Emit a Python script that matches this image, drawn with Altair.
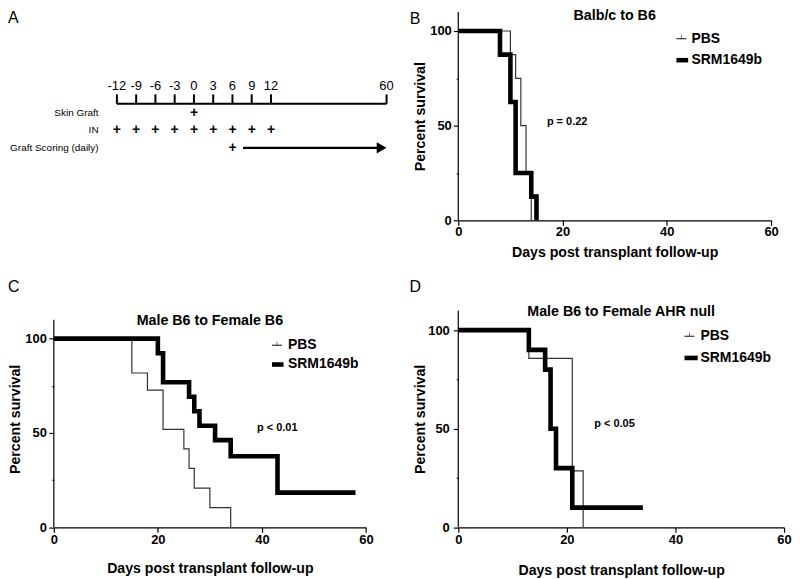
import altair as alt
import pandas as pd

FONT = "Liberation Sans"

# ---------------- Panel A: experimental timeline ----------------
timeline_labels = ["-12", "-9", "-6", "-3", "0", "3", "6", "9", "12", "60"]
timeline_slots = [0, 1, 2, 3, 4, 5, 6, 7, 8, 14]
row_names = ["Skin Graft", "IN", "Graft Scoring (daily)"]
row_index = [1, 2, 3]
skin_graft_days = ["0"]
in_days = ["-12", "-9", "-6", "-3", "0", "3", "6", "9", "12"]
scoring_days = ["6"]

# ---------------- Survival data (Kaplan-Meier steps) ----------------
groups = ["PBS", "SRM1649b"]

b_pbs_days = [0, 10, 11, 12, 13, 14]
b_pbs_surv = [100, 87.5, 75, 50, 25, 0]
b_srm_days = [0, 8, 10, 11, 14, 15]
b_srm_surv = [100, 87.5, 62.5, 25, 12.5, 0]

c_pbs_days = [0, 15, 18, 21, 25, 26, 27, 30, 34]
c_pbs_surv = [100, 81.8, 72.7, 51.9, 41.6, 31.2, 20.8, 10.4, 0]
c_srm_days = [0, 20, 21, 26, 27, 28, 31, 34, 43, 58]
c_srm_surv = [100, 92.3, 76.9, 69.2, 61.5, 53.8, 46.2, 37.7, 18.4, 18.4]

d_pbs_days = [0, 13, 21, 23]
d_pbs_surv = [100, 85.7, 28.6, 0]
d_srm_days = [0, 13, 16, 17, 18, 21, 34]
d_srm_surv = [100, 90, 80, 50, 30, 10, 10]

titles = ["Balb/c to B6", "Male B6 to Female B6", "Male B6 to Female AHR null"]
pvalues = ["p = 0.22", "p < 0.01", "p < 0.05"]

x_ticks = [0, 20, 40, 60]
y_ticks = [0, 25, 50, 75, 100]
y_axis_top = 110


def panel_a():
    ticks = pd.DataFrame({"slot": timeline_slots, "label": timeline_labels})
    slot_of = dict(zip(timeline_labels, timeline_slots))
    xs = alt.Scale(domain=[-3.274, 12.929], nice=False, zero=False)
    ys = alt.Scale(domain=[-4.789, 7.691], nice=False, zero=False, reverse=True)
    axis_row, tick_top_row, label_row = 0.469, -0.069, -0.574

    line = pd.DataFrame({"s0": [min(timeline_slots)], "s1": [max(timeline_slots)], "r": [axis_row]})
    axis_line = alt.Chart(line).mark_rule(color="black", strokeWidth=2).encode(
        x=alt.X("s0:Q", scale=xs, axis=None), x2="s1:Q", y=alt.Y("r:Q", scale=ys, axis=None))
    tk = ticks.assign(r0=axis_row, r1=tick_top_row)
    tick_marks = alt.Chart(tk).mark_rule(color="black", strokeWidth=2).encode(
        x=alt.X("slot:Q", scale=xs, axis=None), y=alt.Y("r0:Q", scale=ys, axis=None), y2="r1:Q")
    tick_text = alt.Chart(ticks.assign(r=label_row)).mark_text(
        font=FONT, fontSize=13, color="black", align="center", baseline="middle").encode(
        x=alt.X("slot:Q", scale=xs, axis=None), y=alt.Y("r:Q", scale=ys, axis=None), text="label:N")

    rows = pd.DataFrame({"name": row_names, "r": row_index, "s": [-0.95] * 3})
    row_text = alt.Chart(rows).mark_text(
        font=FONT, fontSize=10, color="black", align="right", baseline="middle").encode(
        x=alt.X("s:Q", scale=xs, axis=None), y=alt.Y("r:Q", scale=ys, axis=None), text="name:N")

    plus_rows = []
    for d in skin_graft_days:
        plus_rows.append({"slot": slot_of[d], "r": row_index[0]})
    for d in in_days:
        plus_rows.append({"slot": slot_of[d], "r": row_index[1]})
    for d in scoring_days:
        plus_rows.append({"slot": slot_of[d], "r": row_index[2]})
    plus = alt.Chart(pd.DataFrame(plus_rows).assign(t="+")).mark_text(
        font=FONT, fontSize=14, fontWeight="bold", color="black", align="center", baseline="middle").encode(
        x=alt.X("slot:Q", scale=xs, axis=None), y=alt.Y("r:Q", scale=ys, axis=None), text="t:N")

    arrow_df = pd.DataFrame({"s0": [slot_of[scoring_days[0]] + 0.55], "s1": [max(timeline_slots) - 0.4],
                             "tip": [max(timeline_slots)], "r": [row_index[2]]})
    arrow_line = alt.Chart(arrow_df).mark_rule(color="black", strokeWidth=2.4).encode(
        x=alt.X("s0:Q", scale=xs, axis=None), x2="s1:Q", y=alt.Y("r:Q", scale=ys, axis=None))
    arrow_head = alt.Chart(arrow_df).mark_point(
        shape="triangle-right", filled=True, color="black", size=130, opacity=1, xOffset=-5).encode(
        x=alt.X("tip:Q", scale=xs, axis=None), y=alt.Y("r:Q", scale=ys, axis=None))

    letter = alt.Chart(pd.DataFrame({"t": ["A"]})).mark_text(
        font=FONT, fontSize=16, color="black", align="left", baseline="top").encode(
        x=alt.value(-46), y=alt.value(-2.4), text="t:N")

    return alt.layer(axis_line, tick_marks, tick_text, row_text, plus, arrow_line, arrow_head, letter).properties(
        width=313.3, height=218.4)


def km_panel(pbs_d, pbs_s, srm_d, srm_s, title, pval, p_pos, leg, letter, w, h, ymax, g):
    df = pd.concat([
        pd.DataFrame({"day": pbs_d, "surv": pbs_s, "group": groups[0]}),
        pd.DataFrame({"day": srm_d, "surv": srm_s, "group": groups[1]}),
    ])
    xs = alt.Scale(domain=[0, 60], nice=False)
    ys = alt.Scale(domain=[0, ymax], nice=False)
    xaxis = alt.Axis(values=x_ticks, format="d", grid=False, labelFlush=False,
                     title="Days post transplant follow-up", titleFont=FONT, titleFontSize=14.2,
                     titleFontWeight="bold", titleColor="black", titlePadding=g["xtp"],
                     labelFont=FONT, labelFontSize=13, labelFontWeight="bold", labelColor="black",
                     labelPadding=g["xlp"], tickSize=5, tickColor="black", tickWidth=1.2,
                     domainColor="black", domainWidth=1.2)
    yaxis = alt.Axis(values=y_ticks, labelExpr="datum.value % 50 === 0 ? datum.label : ''", grid=False,
                     title="Percent survival", titleFont=FONT, titleFontSize=14.2,
                     titleFontWeight="bold", titleColor="black", titlePadding=g["ytp"],
                     labelFont=FONT, labelFontSize=13, labelFontWeight="bold", labelColor="black",
                     labelPadding=g["ylp"], domain=False,
                     tickSize={"condition": {"test": "datum.value % 50 !== 0", "value": 2}, "value": 5},
                     tickColor="black", tickWidth=1.2)
    sw = alt.StrokeWidth("group:N", scale=alt.Scale(domain=groups, range=[1.2, 4.6]), legend=None)
    col = alt.Color("group:N", scale=alt.Scale(domain=groups, range=["#333333", "#000000"]), legend=None)

    # y-axis line, drawn from 0 up to the axis top
    adf = pd.DataFrame({"day": [0], "surv": [0], "surv2": [y_axis_top]})
    yline = alt.Chart(adf).mark_rule(color="black", strokeWidth=1.2).encode(
        x=alt.X("day:Q", scale=xs, axis=xaxis), y=alt.Y("surv:Q", scale=ys, axis=yaxis), y2="surv2:Q")

    lines = alt.Chart(df).mark_line(interpolate="step-after").encode(
        x=alt.X("day:Q", scale=xs, axis=xaxis), y=alt.Y("surv:Q", scale=ys, axis=yaxis),
        strokeWidth=sw, color=col, detail="group:N")

    ldf = pd.DataFrame({"group": groups, "day": [leg["x1"]] * 2, "day2": leg["x2"],
                        "tx": [leg["tx"]] * 2, "surv": leg["y"]})
    ldf["mid"] = (ldf["day"] + ldf["day2"]) / 2
    leg_lines = alt.Chart(ldf).mark_rule().encode(
        x=alt.X("day:Q", scale=xs, axis=xaxis), x2="day2:Q", y=alt.Y("surv:Q", scale=ys, axis=yaxis),
        strokeWidth=sw, color=col)
    leg_tick = alt.Chart(ldf[ldf["group"] == groups[0]]).mark_tick(
        orient="vertical", size=4, thickness=1, color="#333333", yOffset=-1.5).encode(
        x=alt.X("mid:Q", scale=xs, axis=xaxis), y=alt.Y("surv:Q", scale=ys, axis=yaxis))
    leg_text = alt.Chart(ldf).mark_text(
        font=FONT, fontSize=14, fontWeight="bold", color="black", align="left", baseline="middle").encode(
        x=alt.X("tx:Q", scale=xs, axis=xaxis), y=alt.Y("surv:Q", scale=ys, axis=yaxis), text="group:N")

    pdf = pd.DataFrame({"day": [p_pos[0]], "surv": [p_pos[1]], "t": [pval]})
    p_text = alt.Chart(pdf).mark_text(
        font=FONT, fontSize=11, fontWeight="bold", color="black", align="left", baseline="middle").encode(
        x=alt.X("day:Q", scale=xs, axis=xaxis), y=alt.Y("surv:Q", scale=ys, axis=yaxis), text="t:N")

    t_text = alt.Chart(pd.DataFrame({"t": [title]})).mark_text(
        font=FONT, fontSize=14.3, fontWeight="bold", color="black", align="center", baseline="top").encode(
        x=alt.value(w / 2), y=alt.value(g["ty"]), text="t:N")
    l_text = alt.Chart(pd.DataFrame({"t": [letter]})).mark_text(
        font=FONT, fontSize=16, color="black", align="left", baseline="top").encode(
        x=alt.value(g["lx"]), y=alt.value(g["ly"]), text="t:N")

    return alt.layer(yline, lines, leg_lines, leg_tick, leg_text, p_text, t_text, l_text).properties(
        width=w, height=h)


panel_b = km_panel(b_pbs_days, b_pbs_surv, b_srm_days, b_srm_surv, titles[0], pvalues[0], (17.0, 52.1),
                   {"x1": 41.85, "x2": [43.76, 44.09], "tx": 44.72, "y": [95.95, 84.58]}, "B", 314, 209, 110,
                   {"xtp": 7.7, "xlp": 0, "ytp": 2.3, "ylp": 2, "ty": -2.7, "lx": -48.8, "ly": -1})
panel_c = km_panel(c_pbs_days, c_pbs_surv, c_srm_days, c_srm_surv, titles[1], pvalues[1], (39.07, 52.8),
                   {"x1": 41.94, "x2": [43.85, 44.16], "tx": 45.0, "y": [96.5, 86.3]}, "C", 313.3, 217.7, 114.96,
                   {"xtp": 15.4, "xlp": 1, "ytp": 2.3, "ylp": 2.5, "ty": 3.3, "lx": -46, "ly": -32})
panel_d = km_panel(d_pbs_days, d_pbs_surv, d_srm_days, d_srm_surv, titles[2], pvalues[2], (25.05, 52.55),
                   {"x1": 41.67, "x2": [43.5, 44.1], "tx": 44.6, "y": [96.9, 85.9]}, "D", 327, 217.7, 110,
                   {"xtp": 17.7, "xlp": 1, "ytp": 0.6, "ylp": 4, "ty": -5, "lx": -49, "ly": -32})

chart = alt.concat(panel_a(), panel_b, panel_c, panel_d, columns=2).properties(
    padding=0, align="none", bounds="flush", spacing={"row": 80.5, "column": 92}
).configure_view(strokeOpacity=0)

chart.save("out.html", embed_options={"renderer": "svg", "actions": False})
